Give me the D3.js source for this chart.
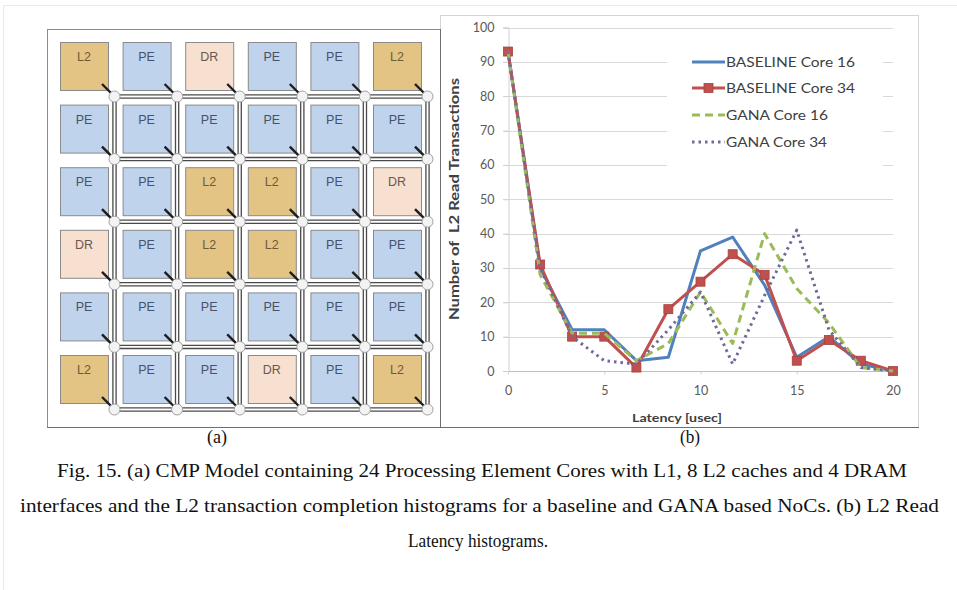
<!DOCTYPE html>
<html>
<head>
<meta charset="utf-8">
<script src="https://cdn.jsdelivr.net/npm/d3@7"></script>
<style>
  html, body { margin: 0; padding: 0; background: #ffffff; }
  svg { display: block; }
</style>
</head>
<body>
<div id="figure"></div>
<script>
// ---- panel (a): CMP layout ----
const meshRows = [
  ["L2", "PE", "DR", "PE", "PE", "L2"],
  ["PE", "PE", "PE", "PE", "PE", "PE"],
  ["PE", "PE", "L2", "L2", "PE", "DR"],
  ["DR", "PE", "L2", "L2", "PE", "PE"],
  ["PE", "PE", "PE", "PE", "PE", "PE"],
  ["L2", "PE", "PE", "DR", "PE", "L2"]
];

// ---- panel (b): L2 read latency histograms ----
const latency = [0, 1.67, 3.33, 5, 6.67, 8.33, 10, 11.67, 13.33, 15, 16.67, 18.33, 20];
const baselineCore16 = [93, 30, 12, 12, 3, 4, 35, 39, 25, 4, 10, 2, 0];
const baselineCore34 = [93, 31, 10, 10, 1, 18, 26, 34, 28, 3, 9, 3, 0];
const ganaCore16 = [93, 28, 11, 11, 3, 8, 23, 8, 40, 24, 14, 1, 0];
const ganaCore34 = [93, 30, 10, 3, 2, 12, 23, 2, 22, 41, 12, 1, 0];
const seriesNames = ["BASELINE Core 16", "BASELINE Core 34", "GANA Core 16", "GANA Core 34"];
const yTicks = [0, 10, 20, 30, 40, 50, 60, 70, 80, 90, 100];
const xTicks = [0, 5, 10, 15, 20];

const captionLines = [
  "Fig. 15. (a) CMP Model containing 24 Processing Element Cores with L1, 8 L2 caches and 4 DRAM",
  "interfaces and the L2 transaction completion histograms for a baseline and GANA based NoCs. (b) L2 Read",
  "Latency histograms."
];

const width = 957;
const height = 590;

const svg = d3.select("#figure")
  .append("svg")
  .attr("width", width)
  .attr("height", height);

svg.append("rect")
  .attr("width", width)
  .attr("height", height)
  .attr("fill", "#ffffff");

// faint page frame
svg.append("rect")
  .attr("x", 3.5)
  .attr("y", 5.5)
  .attr("width", 980)
  .attr("height", 620)
  .attr("fill", "none")
  .attr("stroke", "#e9e9e9");

// ================= panel (a) =================
const cellFill = { L2: "#e3c485", PE: "#bfd3ec", DR: "#f7e0d0" };
const cellText = { L2: "#6e5a35", PE: "#44526b", DR: "#6a5750" };

const meshBox = { x: 47, y: 29, w: 393, h: 398 };
const pitch = 62.6;
const cellSize = 48;
const originX = 60;
const originY = 42;
const routerOffset = 54.5;

const panelA = svg.append("g");

panelA.append("rect")
  .attr("x", meshBox.x + 0.5)
  .attr("y", meshBox.y + 0.5)
  .attr("width", meshBox.w)
  .attr("height", meshBox.h)
  .attr("fill", "#ffffff")
  .attr("stroke", "#8c8c8c");

const colIdx = d3.range(6);
const rowIdx = d3.range(6);
const routerX = c => originX + c * pitch + routerOffset;
const routerY = r => originY + r * pitch + routerOffset;

// mesh links: drawn as doubled lines
const links = panelA.append("g");
[-1.6, 1.6].forEach(off => {
  rowIdx.forEach(r => {
    links.append("line")
      .attr("x1", routerX(0))
      .attr("x2", routerX(5))
      .attr("y1", routerY(r) + off)
      .attr("y2", routerY(r) + off)
      .attr("stroke", "#4a4a4a")
      .attr("stroke-width", 1.3);
  });
  colIdx.forEach(c => {
    links.append("line")
      .attr("x1", routerX(c) + off)
      .attr("x2", routerX(c) + off)
      .attr("y1", routerY(0))
      .attr("y2", routerY(5))
      .attr("stroke", "#4a4a4a")
      .attr("stroke-width", 1.3);
  });
});

const cells = [];
meshRows.forEach((row, r) => {
  row.forEach((kind, c) => cells.push({ r, c, kind }));
});

const cellG = panelA.selectAll(".cell")
  .data(cells)
  .enter()
  .append("g")
  .attr("class", "cell")
  .attr("transform", d => `translate(${originX + d.c * pitch}, ${originY + d.r * pitch})`);

cellG.append("rect")
  .attr("x", 0.5)
  .attr("y", 0.5)
  .attr("width", cellSize)
  .attr("height", cellSize)
  .attr("fill", d => cellFill[d.kind])
  .attr("stroke", "#8a8a8a")
  .attr("stroke-width", 1);

cellG.append("text")
  .attr("x", cellSize / 2)
  .attr("y", 19)
  .attr("text-anchor", "middle")
  .attr("font-family", "Liberation Sans, Arial, sans-serif")
  .attr("font-size", "12.5px")
  .attr("fill", d => cellText[d.kind])
  .text(d => d.kind);

// short connectors from the core to its router
cellG.append("line")
  .attr("x1", 42)
  .attr("y1", 42)
  .attr("x2", routerOffset - 3)
  .attr("y2", routerOffset - 3)
  .attr("stroke", "#1e1e1e")
  .attr("stroke-width", 2.4);

panelA.selectAll(".router")
  .data(cells)
  .enter()
  .append("circle")
  .attr("class", "router")
  .attr("cx", d => routerX(d.c))
  .attr("cy", d => routerY(d.r))
  .attr("r", 5.5)
  .attr("fill", "#f3f3f3")
  .attr("stroke", "#a0a0a0")
  .attr("stroke-width", 1);

// ================= panel (b) =================
const frameB = { x: 440, y: 15, w: 478, h: 412 };

svg.append("rect")
  .attr("x", frameB.x + 0.5)
  .attr("y", frameB.y + 0.5)
  .attr("width", frameB.w)
  .attr("height", frameB.h)
  .attr("fill", "#ffffff")
  .attr("stroke", "#d4d4d4");

svg.append("line")
  .attr("x1", frameB.x)
  .attr("x2", frameB.x + frameB.w + 1)
  .attr("y1", frameB.y + frameB.h + 0.5)
  .attr("y2", frameB.y + frameB.h + 0.5)
  .attr("stroke", "#6e6e6e");

// right and bottom edges of panel (a) sit over the chart frame
svg.append("line")
  .attr("x1", meshBox.x + meshBox.w + 0.5)
  .attr("x2", meshBox.x + meshBox.w + 0.5)
  .attr("y1", meshBox.y)
  .attr("y2", meshBox.y + meshBox.h + 1)
  .attr("stroke", "#6e6e6e");
svg.append("line")
  .attr("x1", meshBox.x)
  .attr("x2", meshBox.x + meshBox.w)
  .attr("y1", meshBox.y + meshBox.h + 0.5)
  .attr("y2", meshBox.y + meshBox.h + 0.5)
  .attr("stroke", "#6e6e6e");

const x = d3.scaleLinear().domain([0, 20]).range([508, 893]);
const y = d3.scaleLinear().domain([0, 100]).range([371, 27.5]);

const chartFont = "Lato, 'Open Sans', sans-serif";

// gridlines
svg.append("g")
  .selectAll("line")
  .data(yTicks)
  .enter()
  .append("line")
  .attr("x1", x(0) - 5)
  .attr("x2", x(20))
  .attr("y1", d => Math.round(y(d)) + 0.5)
  .attr("y2", d => Math.round(y(d)) + 0.5)
  .attr("stroke", d => d === 0 ? "#bdbdbd" : "#d9d9d9")
  .attr("stroke-width", 1);

// y axis
const yAxis = svg.append("g")
  .attr("transform", `translate(${x(0) + 0.5}, 0)`)
  .call(d3.axisLeft(y).tickValues(yTicks).tickSize(5).tickPadding(9));
yAxis.select(".domain").attr("stroke", "#d0d0d0");
yAxis.selectAll(".tick line").attr("stroke", "#d0d0d0");
yAxis.selectAll("text")
  .attr("font-family", chartFont)
  .attr("font-size", "12.5px")
  .attr("fill", "#595959");

// x axis
const xAxis = svg.append("g")
  .attr("transform", `translate(0, ${Math.round(y(0)) + 0.5})`)
  .call(d3.axisBottom(x).tickValues(xTicks).tickSize(3).tickPadding(12));
xAxis.select(".domain").remove();
xAxis.selectAll(".tick line").attr("stroke", "#d0d0d0");
xAxis.selectAll("text")
  .attr("font-family", chartFont)
  .attr("font-size", "12.5px")
  .attr("fill", "#595959");

svg.append("text")
  .attr("transform", "translate(459, 199) rotate(-90)")
  .attr("text-anchor", "middle")
  .attr("font-family", chartFont)
  .attr("font-size", "13.5px")
  .attr("font-weight", "700")
  .attr("fill", "#404040")
  .attr("xml:space", "preserve")
  .attr("textLength", 242)
  .attr("lengthAdjust", "spacingAndGlyphs")
  .text("Number of  L2 Read Transactions");

svg.append("text")
  .attr("x", 677)
  .attr("y", 422)
  .attr("text-anchor", "middle")
  .attr("font-family", chartFont)
  .attr("font-size", "12px")
  .attr("font-weight", "700")
  .attr("fill", "#404040")
  .attr("textLength", 90)
  .attr("lengthAdjust", "spacingAndGlyphs")
  .text("Latency [usec]");

// legend background hides gridlines behind it
const legendBox = { x: 667, y: 45, w: 216, h: 140 };
svg.append("rect")
  .attr("x", legendBox.x)
  .attr("y", legendBox.y)
  .attr("width", legendBox.w)
  .attr("height", legendBox.h)
  .attr("fill", "#ffffff");

const seriesStyle = [
  { color: "#4f81bd", dash: null, marker: false },
  { color: "#c0504d", dash: null, marker: true },
  { color: "#9bbb59", dash: "8,5", marker: false },
  { color: "#6f6a9a", dash: "2.5,4", marker: false }
];

const seriesValues = [baselineCore16, baselineCore34, ganaCore16, ganaCore34];
const legendTextWidth = [129, 129, 102, 101];

const series = seriesNames.map((name, i) => ({
  name,
  style: seriesStyle[i],
  points: latency.map((lx, j) => ({ lx, v: seriesValues[i][j] }))
}));

const line = d3.line()
  .x(d => x(d.lx))
  .y(d => y(d.v));

const plot = svg.append("g");

series.forEach(s => {
  plot.append("path")
    .datum(s.points)
    .attr("d", line)
    .attr("fill", "none")
    .attr("stroke", s.style.color)
    .attr("stroke-width", 3)
    .attr("stroke-linejoin", "round")
    .attr("stroke-dasharray", s.style.dash);

  if (s.style.marker) {
    plot.selectAll(null)
      .data(s.points)
      .enter()
      .append("rect")
      .attr("x", d => x(d.lx) - 4.5)
      .attr("y", d => y(d.v) - 4.5)
      .attr("width", 9)
      .attr("height", 9)
      .attr("fill", s.style.color)
      .attr("stroke", "#a8403d")
      .attr("stroke-width", 0.8);
  }
});

// legend entries
const legendRowY = [62, 88, 115, 142];
const legend = svg.append("g");

series.forEach((s, i) => {
  const ly = legendRowY[i];
  legend.append("line")
    .attr("x1", 692)
    .attr("x2", 725)
    .attr("y1", ly)
    .attr("y2", ly)
    .attr("stroke", s.style.color)
    .attr("stroke-width", 3)
    .attr("stroke-dasharray", s.style.dash);

  if (s.style.marker) {
    legend.append("rect")
      .attr("x", 708.5 - 4.5)
      .attr("y", ly - 4.5)
      .attr("width", 9)
      .attr("height", 9)
      .attr("fill", s.style.color)
      .attr("stroke", "#a8403d")
      .attr("stroke-width", 0.8);
  }

  legend.append("text")
    .attr("x", 726)
    .attr("y", ly)
    .attr("dy", "0.36em")
    .attr("font-family", chartFont)
    .attr("font-size", "14px")
    .attr("fill", "#404040")
    .attr("textLength", legendTextWidth[i])
    .attr("lengthAdjust", "spacingAndGlyphs")
    .text(s.name);
});

// ================= caption =================
const serif = "'Liberation Serif', 'Times New Roman', serif";

svg.append("text")
  .attr("x", 217)
  .attr("y", 443)
  .attr("text-anchor", "middle")
  .attr("font-family", serif)
  .attr("font-size", "19px")
  .attr("fill", "#111")
  .attr("textLength", 20)
  .attr("lengthAdjust", "spacingAndGlyphs")
  .text("(a)");

svg.append("text")
  .attr("x", 690)
  .attr("y", 443)
  .attr("text-anchor", "middle")
  .attr("font-family", serif)
  .attr("font-size", "19px")
  .attr("fill", "#111")
  .attr("textLength", 20)
  .attr("lengthAdjust", "spacingAndGlyphs")
  .text("(b)");

const captionLayout = [
  { x: 57, y: 477, len: 850 },
  { x: 20, y: 512, len: 919 },
  { x: 408, y: 547, len: 140 }
];

captionLines.forEach((t, i) => {
  svg.append("text")
    .attr("x", captionLayout[i].x)
    .attr("y", captionLayout[i].y)
    .attr("font-family", serif)
    .attr("font-size", "19px")
    .attr("fill", "#111")
    .attr("textLength", captionLayout[i].len)
    .attr("lengthAdjust", "spacingAndGlyphs")
    .text(t);
});
</script>
</body>
</html>
